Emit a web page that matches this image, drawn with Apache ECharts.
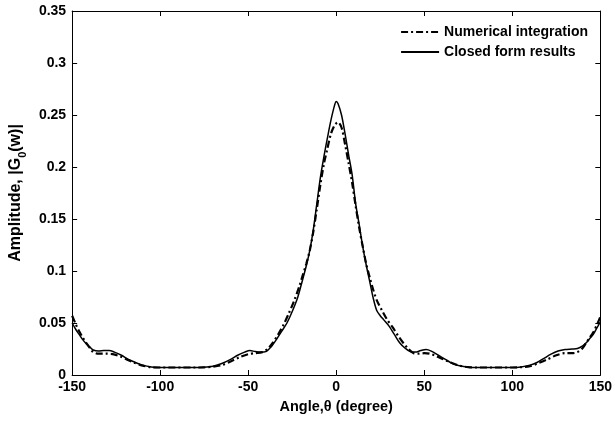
<!DOCTYPE html>
<html>
<head>
<meta charset="utf-8">
<script src="https://cdn.jsdelivr.net/npm/echarts@6/dist/echarts.min.js"></script>
<style>html,body{margin:0;padding:0;background:#fff}#c{width:615px;height:421px}</style>
</head>
<body>
<div id="c"></div>
<script>
const xTicks = [-150, -100, -50, 0, 50, 100, 150];
const yTicks = [0, 0.05, 0.1, 0.15, 0.2, 0.25, 0.3, 0.35];
const seriesNames = ['Numerical integration', 'Closed form results'];

// Numerical integration (dash-dot)
const numAngles = [-150,-148,-146,-144,-142,-140,-138,-135,-131,-127,-123,-119,-115,-110,-105,-100,-80,-75,-70,-65,-60,-55,-50,-46,-42,-39,-36,-33,-30,-27,-24,-21,-19,-17,-15,-13,-11,-9,-7,-5,-3,-1,0,1,3,5,7,9,11,13,15,17,19,21,23,26,29,32,35,38,41,44,47,50,53,57,61,65,70,75,80,100,105,110,115,120,125,130,134,137,140,142,144,146,148,150];
const numValues = [0.057,0.049,0.042,0.036,0.031,0.026,0.022,0.0205,0.0205,0.02,0.018,0.015,0.012,0.009,0.0075,0.0072,0.0072,0.0074,0.008,0.0095,0.013,0.017,0.02,0.021,0.022,0.025,0.031,0.039,0.048,0.059,0.071,0.085,0.096,0.107,0.12,0.138,0.16,0.183,0.203,0.218,0.232,0.24,0.242,0.243,0.238,0.222,0.204,0.185,0.163,0.142,0.124,0.107,0.094,0.082,0.072,0.062,0.053,0.046,0.038,0.031,0.025,0.021,0.0205,0.021,0.0205,0.018,0.015,0.012,0.009,0.0075,0.0072,0.0072,0.0075,0.0085,0.0115,0.015,0.019,0.021,0.021,0.022,0.026,0.031,0.036,0.041,0.048,0.056];

// Closed form results (solid)
const cfAngles = [-150,-148,-146,-144,-142,-140,-138,-135,-132,-129,-126,-122,-118,-114,-110,-105,-100,-90,-80,-75,-70,-65,-60,-56,-52,-49,-46,-43,-40,-37,-34,-31,-28,-25,-22,-20,-17,-15,-13,-11,-9,-7,-5,-3,-1,0,1,3,5,7,9,11,13,15,17,19,21,23,25,27,30,33,36,39,42,45,48,51,54,58,62,66,70,75,80,90,100,105,110,114,118,122,126,130,134,137,140,142,144,146,148,150];
const cfValues = [0.050,0.044,0.039,0.034,0.030,0.027,0.024,0.023,0.0235,0.0235,0.022,0.019,0.015,0.012,0.0095,0.0078,0.0072,0.0072,0.0072,0.0075,0.0085,0.011,0.015,0.019,0.022,0.0235,0.0225,0.022,0.0225,0.027,0.034,0.042,0.05,0.061,0.074,0.086,0.105,0.12,0.14,0.165,0.19,0.21,0.228,0.245,0.259,0.263,0.261,0.25,0.232,0.212,0.193,0.165,0.145,0.124,0.106,0.09,0.074,0.062,0.057,0.053,0.047,0.039,0.031,0.026,0.0225,0.022,0.0235,0.0245,0.023,0.019,0.015,0.011,0.0088,0.0075,0.0072,0.0072,0.0072,0.0078,0.0095,0.012,0.016,0.02,0.023,0.0245,0.025,0.0255,0.028,0.031,0.035,0.039,0.045,0.051];

const pair = (a, v) => a.map((x, i) => [x, v[i]]);
const font = 'Liberation Sans, Arial, sans-serif';
const lbl = {color: '#000', fontFamily: font, fontWeight: 'bold', fontSize: 14};

const chart = echarts.init(document.getElementById('c'), null, {renderer: 'canvas'});
const xCommon = {
  type: 'value', min: xTicks[0], max: xTicks[xTicks.length - 1], interval: 50,
  axisLine: {show: true, onZero: false, lineStyle: {color: '#000', width: 1}},
  axisTick: {show: true, inside: true, length: 5, lineStyle: {color: '#000'}},
  splitLine: {show: false}
};
const yCommon = {
  type: 'value', min: yTicks[0], max: yTicks[yTicks.length - 1], interval: 0.05,
  axisLine: {show: true, onZero: false, lineStyle: {color: '#000', width: 1}},
  axisTick: {show: true, inside: true, length: 5, lineStyle: {color: '#000'}},
  splitLine: {show: false}
};
chart.setOption({
  animation: false,
  backgroundColor: '#fff',
  grid: {left: 69, right: 12, top: 11, bottom: 46},
  legend: {
    right: 22, top: 20, orient: 'vertical', itemGap: 6, itemWidth: 38, itemHeight: 10,
    itemStyle: {opacity: 0},
    textStyle: {color: '#000', fontFamily: font, fontWeight: 'bold', fontSize: 14},
    data: seriesNames
  },
  xAxis: [
    Object.assign({}, xCommon, {
      position: 'bottom',
      axisLabel: Object.assign({}, lbl, {margin: 5}),
      name: 'Angle,θ (degree)', nameLocation: 'middle', nameGap: 24,
      nameTextStyle: {color: '#000', fontFamily: font, fontWeight: 'bold', fontSize: 14.5}
    }),
    Object.assign({}, xCommon, {position: 'top', axisLabel: {show: false}})
  ],
  yAxis: [
    Object.assign({}, yCommon, {
      position: 'left',
      axisLabel: Object.assign({}, lbl, {margin: 6}),
      name: '{m|Amplitude, |G}{s|0}{m|(w)|}', nameLocation: 'middle', nameGap: 42,
      nameTextStyle: {
        color: '#000', fontFamily: font, fontWeight: 'bold', fontSize: 16,
        rich: {
          m: {fontFamily: font, fontWeight: 'bold', fontSize: 16, lineHeight: 24, verticalAlign: 'middle'},
          s: {fontFamily: font, fontWeight: 'bold', fontSize: 11, lineHeight: 11, verticalAlign: 'bottom'}
        }
      }
    }),
    Object.assign({}, yCommon, {position: 'right', axisLabel: {show: false}})
  ],
  series: [
    {
      name: seriesNames[0], type: 'line', data: pair(numAngles, numValues),
      showSymbol: false, symbol: 'none', smooth: 0.3,
      lineStyle: {color: '#000', width: 2.2, type: [7, 3, 2, 3]},
      itemStyle: {color: '#000'}, z: 3
    },
    {
      name: seriesNames[1], type: 'line', data: pair(cfAngles, cfValues),
      showSymbol: false, symbol: 'none', smooth: 0.3,
      lineStyle: {color: '#000', width: 1.5, type: 'solid'},
      itemStyle: {color: '#000'}, z: 2
    }
  ]
});
</script>
</body>
</html>
